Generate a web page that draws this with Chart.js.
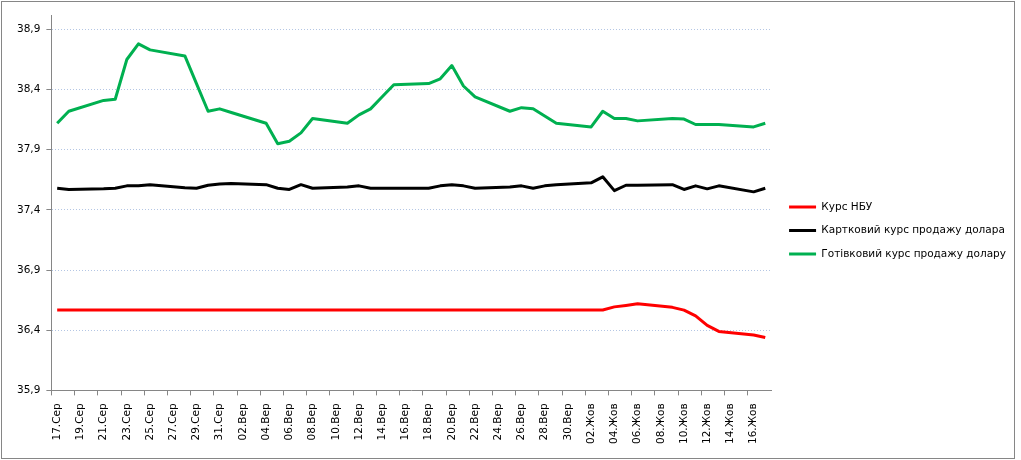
<!DOCTYPE html>
<html>
<head>
<meta charset="utf-8">
<script src="https://cdn.jsdelivr.net/npm/chart.js@4.4.0/dist/chart.umd.min.js"></script>
<style>
  html, body { margin: 0; padding: 0; background: #fff; }
  #wrap { position: absolute; left: 1px; top: 1px; width: 1012px; height: 456px; border: 1px solid #868686; }
</style>
</head>
<body>
<div id="wrap"><canvas id="chart" width="1012" height="456"></canvas></div>
<script>
// дні 17.08 - 17.10, вихідні без даних (null)
const days = [
  '17.Сер','18.Сер','19.Сер','20.Сер','21.Сер','22.Сер','23.Сер','24.Сер','25.Сер','26.Сер',
  '27.Сер','28.Сер','29.Сер','30.Сер','31.Сер','01.Вер','02.Вер','03.Вер','04.Вер','05.Вер',
  '06.Вер','07.Вер','08.Вер','09.Вер','10.Вер','11.Вер','12.Вер','13.Вер','14.Вер','15.Вер',
  '16.Вер','17.Вер','18.Вер','19.Вер','20.Вер','21.Вер','22.Вер','23.Вер','24.Вер','25.Вер',
  '26.Вер','27.Вер','28.Вер','29.Вер','30.Вер','01.Жов','02.Жов','03.Жов','04.Жов','05.Жов',
  '06.Жов','07.Жов','08.Жов','09.Жов','10.Жов','11.Жов','12.Жов','13.Жов','14.Жов','15.Жов',
  '16.Жов','17.Жов'
];

const nbuRate = [
  36.5686, 36.5686, null, null, 36.5686, 36.5686, 36.5686, 36.5686, 36.5686, null,
  null, 36.5686, 36.5686, 36.5686, 36.5686, 36.5686, null, null, 36.5686, 36.5686,
  36.5686, 36.5686, 36.5686, null, null, 36.5686, 36.5686, 36.5686, 36.5686, 36.5686,
  null, null, 36.5686, 36.5686, 36.5686, 36.5686, 36.5686, null, null, 36.5686,
  36.5686, 36.5686, 36.5686, 36.5686, null, null, 36.5686, 36.5686, 36.594, 36.606,
  36.62, null, null, 36.59, 36.567, 36.52, 36.44, 36.39, null, null,
  36.36, 36.34
];

const cardRate = [
  37.58, 37.57, null, null, 37.575, 37.58, 37.60, 37.60, 37.61, null,
  null, 37.585, 37.58, 37.605, 37.615, 37.62, null, null, 37.61, 37.58,
  37.57, 37.61, 37.58, null, null, 37.59, 37.60, 37.58, 37.58, 37.58,
  null, null, 37.58, 37.60, 37.61, 37.60, 37.58, null, null, 37.59,
  37.60, 37.58, 37.60, 37.61, null, null, 37.625, 37.675, 37.56, 37.605,
  37.605, null, null, 37.61, 37.57, 37.60, 37.575, 37.60, null, null,
  37.55, 37.58
];

const cashRate = [
  38.12, 38.22, null, null, 38.31, 38.32, 38.65, 38.78, 38.73, null,
  null, 38.68, 38.45, 38.22, 38.24, 38.21, null, null, 38.12, 37.95,
  37.97, 38.04, 38.16, null, null, 38.12, 38.19, 38.24, 38.34, 38.44,
  null, null, 38.45, 38.49, 38.60, 38.43, 38.34, null, null, 38.22,
  38.25, 38.24, 38.18, 38.12, null, null, 38.09, 38.22, 38.16, 38.16,
  38.14, null, null, 38.16, 38.155, 38.11, 38.11, 38.11, null, null,
  38.09, 38.12
];

const yTicks = [35.9, 36.4, 36.9, 37.4, 37.9, 38.4, 38.9];

Chart.defaults.font.family = "'DejaVu Sans', sans-serif";
Chart.defaults.font.size = 10.5;
Chart.defaults.color = '#000';

// легенда трохи правіше і вище, ніж ставить Chart.js
const legendShift = {
  id: 'legendShift',
  afterLayout(chart) {
    chart.legend.left += 5;
    chart.legend.right += 5;
    chart.legend.top -= 3;
    chart.legend.bottom -= 3;
  }
};

new Chart(document.getElementById('chart'), {
  type: 'line',
  data: {
    labels: days,
    datasets: [
      { label: 'Курс НБУ', data: nbuRate, borderColor: '#ff0000', backgroundColor: '#ff0000' },
      { label: 'Картковий курс продажу долара', data: cardRate, borderColor: '#000000', backgroundColor: '#000000' },
      { label: 'Готівковий курс продажу долару', data: cashRate, borderColor: '#00b050', backgroundColor: '#00b050' }
    ]
  },
  plugins: [legendShift],
  options: {
    responsive: false,
    animation: false,
    spanGaps: true,
    elements: {
      point: { radius: 0 },
      line: { borderWidth: 3, tension: 0, borderJoinStyle: 'round' }
    },
    layout: { padding: { left: 9, top: 13, right: 3, bottom: 6 } },
    plugins: {
      tooltip: { enabled: false },
      legend: {
        position: 'right',
        labels: {
          boxWidth: 27,
          boxHeight: 3,
          padding: 13,
          generateLabels: (chart) =>
            Chart.defaults.plugins.legend.labels.generateLabels(chart).map(l => ({ ...l, lineWidth: 0 }))
        }
      }
    },
    scales: {
      x: {
        offset: true,
        border: { color: '#868686' },
        grid: {
          offset: true,
          drawOnChartArea: false,
          tickLength: 5,
          color: (ctx) => (ctx.index !== undefined && ctx.index % 2 === 0) ? '#868686' : 'rgba(0,0,0,0)'
        },
        ticks: {
          autoSkip: false,
          maxRotation: 90,
          minRotation: 90,
          padding: 8,
          callback: function (val, i) { return i % 2 === 0 ? this.getLabelForValue(val) : ''; }
        }
      },
      y: {
        min: 35.9,
        max: 39.02,
        afterBuildTicks: (scale) => { scale.ticks = yTicks.map(v => ({ value: v })); },
        border: { color: '#868686', dash: [1, 2] },
        grid: { color: '#b4c6e4', tickColor: '#868686', tickLength: 5, tickBorderDash: [] },
        ticks: {
          padding: 6,
          callback: (v) => Number(v).toFixed(1).replace('.', ',')
        }
      }
    }
  }
});
</script>
</body>
</html>
